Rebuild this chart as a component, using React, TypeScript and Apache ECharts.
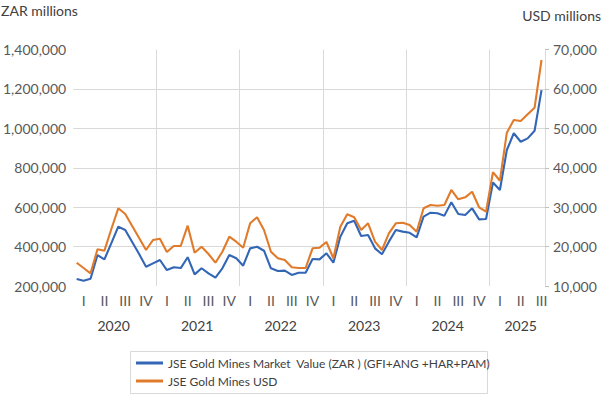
import React, { useEffect, useRef } from "react";
import * as echarts from "echarts";

const years = ["2020", "2021", "2022", "2023", "2024", "2025"];
const quarterLabels = ["I", "II", "III", "IV"];
const monthCount = 68; // Jan 2020 .. Aug 2025

const zarSeries = [
  236000, 227000, 237000, 357000, 335000, 418000, 501000, 484000, 423000, 362000, 298000, 315000,
  332000, 281000, 295000, 291000, 346000, 259000, 290000, 264000, 242000, 290000, 357000, 341000,
  303000, 391000, 399000, 379000, 290000, 276000, 278000, 256000, 267000, 267000, 337000, 335000,
  366000, 318000, 450000, 518000, 531000, 454000, 459000, 391000, 361000, 425000, 484000, 476000,
  470000, 447000, 552000, 572000, 569000, 557000, 625000, 565000, 560000, 594000, 538000, 540000,
  725000, 687000, 890000, 975000, 932000, 949000, 988000, 1194000,
];

const usdSeries = [
  15900, 14570, 13220, 19310, 18960, 24460, 29710, 28270, 25220, 22180, 19130, 21670,
  22000, 18630, 20150, 20150, 25300, 18450, 19970, 18120, 15910, 18700, 22510, 21240,
  19720, 25910, 27430, 24210, 18700, 17030, 16600, 14740, 14570, 14570, 19560, 19720,
  21160, 17030, 25040, 28190, 27430, 24210, 25910, 21240, 19130, 23370, 25910, 26060,
  25500, 23780, 29710, 30550, 30370, 30550, 34360, 32000, 32500, 33920, 29970, 28850,
  38870, 36710, 48890, 52110, 51860, 53560, 55230, 67340,
];

const seriesNames = [
  "JSE Gold Mines Market  Value (ZAR ) (GFI+ANG +HAR+PAM)",
  "JSE Gold Mines USD",
];

const zarTicks = { min: 200000, max: 1400000, interval: 200000 };
const usdTicks = { min: 10000, max: 70000, interval: 10000 };

// year label positions in half-month steps along the axis
const yearLabelHalfMonth = [12, 36, 60, 84, 108, 129];

const FONT = "Lato";
const GRID = { left: 72, right: 58, top: 49.5, bottom: 110 };

export default function App() {
  const ref = useRef<HTMLDivElement>(null);

  useEffect(() => {
    if (!ref.current) return;
    const chart = echarts.init(ref.current, undefined, { renderer: "svg" });

    const months: string[] = [];
    for (let i = 0; i < monthCount; i++) {
      months.push(`${years[Math.floor(i / 12)]}-${(i % 12) + 1}`);
    }
    const halfMonths: string[] = [];
    for (let i = 0; i <= monthCount * 2; i++) {
      const yi = yearLabelHalfMonth.indexOf(i);
      halfMonths.push(yi >= 0 ? years[yi] : "");
    }

    chart.setOption({
      animation: false,
      textStyle: { fontFamily: FONT },
      title: [
        {
          text: "ZAR millions",
          left: 1,
          top: 3,
          padding: 0,
          textStyle: { fontFamily: FONT, fontSize: 14, fontWeight: "normal", color: "#404040" },
        },
        {
          text: "USD millions",
          right: 2,
          top: 8,
          padding: 0,
          textStyle: { fontFamily: FONT, fontSize: 14, fontWeight: "normal", color: "#404040" },
        },
      ],
      grid: [
        { ...GRID, containLabel: false },
        { ...GRID, containLabel: false },
      ],
      legend: {
        orient: "vertical",
        left: 136,
        top: 357,
        itemWidth: 27,
        itemHeight: 3,
        itemGap: 6,
        icon: "rect",
        padding: 0,
        data: seriesNames,
        textStyle: { fontFamily: FONT, fontSize: 12, color: "#404040" },
      },
      graphic: [
        {
          type: "rect",
          shape: { x: 130.5, y: 351.5, width: 357, height: 42 },
          style: { fill: "none", stroke: "#d9d9d9", lineWidth: 1 },
          silent: true,
        },
      ],
      xAxis: [
        {
          type: "category",
          gridIndex: 0,
          data: months,
          boundaryGap: true,
          axisLine: { show: false },
          axisTick: { show: false },
          splitLine: {
            show: true,
            interval: (i: number) => i > 0 && i % 12 === 0,
            lineStyle: { color: "#d9d9d9", width: 1 },
          },
          axisLabel: {
            interval: (i: number) => i % 3 === 1,
            formatter: (_v: string, i: number) => quarterLabels[Math.floor((i % 12) / 3)],
            color: "#595959",
            fontFamily: FONT,
            fontSize: 14,
            margin: 7,
          },
        },
        {
          type: "category",
          gridIndex: 1,
          data: halfMonths,
          boundaryGap: false,
          axisLine: { show: false },
          axisTick: { show: false },
          splitLine: { show: false },
          axisLabel: {
            interval: (_i: number, v: string) => v !== "",
            color: "#404040",
            fontFamily: FONT,
            fontSize: 14,
            margin: 32,
          },
        },
      ],
      yAxis: [
        {
          type: "value",
          gridIndex: 0,
          ...zarTicks,
          axisLine: { show: false },
          axisTick: { show: false },
          splitLine: {
            show: true,
            showMinLine: false,
            showMaxLine: false,
            lineStyle: { color: "#d9d9d9", width: 1 },
          },
          axisLabel: {
            formatter: (v: number) => v.toLocaleString("en-US"),
            color: "#595959",
            fontFamily: FONT,
            fontSize: 14,
            margin: 7,
          },
        },
        {
          type: "value",
          gridIndex: 0,
          position: "right",
          ...usdTicks,
          axisLine: { show: false },
          axisTick: { show: true, length: 4, lineStyle: { color: "#bfbfbf" } },
          splitLine: { show: false },
          axisLabel: {
            formatter: (v: number) => v.toLocaleString("en-US"),
            color: "#595959",
            fontFamily: FONT,
            fontSize: 14,
            margin: 8,
          },
        },
        {
          type: "value",
          gridIndex: 1,
          show: false,
          splitLine: { show: false },
        },
      ],
      series: [
        {
          name: seriesNames[0],
          type: "line",
          xAxisIndex: 0,
          yAxisIndex: 0,
          data: zarSeries,
          showSymbol: false,
          color: "#3366b5",
          lineStyle: { width: 2.1, color: "#3366b5" },
        },
        {
          name: seriesNames[1],
          type: "line",
          xAxisIndex: 0,
          yAxisIndex: 1,
          data: usdSeries,
          showSymbol: false,
          color: "#e07b2b",
          lineStyle: { width: 2.1, color: "#e07b2b" },
        },
      ],
    });

    return () => chart.dispose();
  }, []);

  return (
    <div
      ref={ref}
      style={{ position: "absolute", left: 0, top: 0, width: 603, height: 396 }}
    />
  );
}
